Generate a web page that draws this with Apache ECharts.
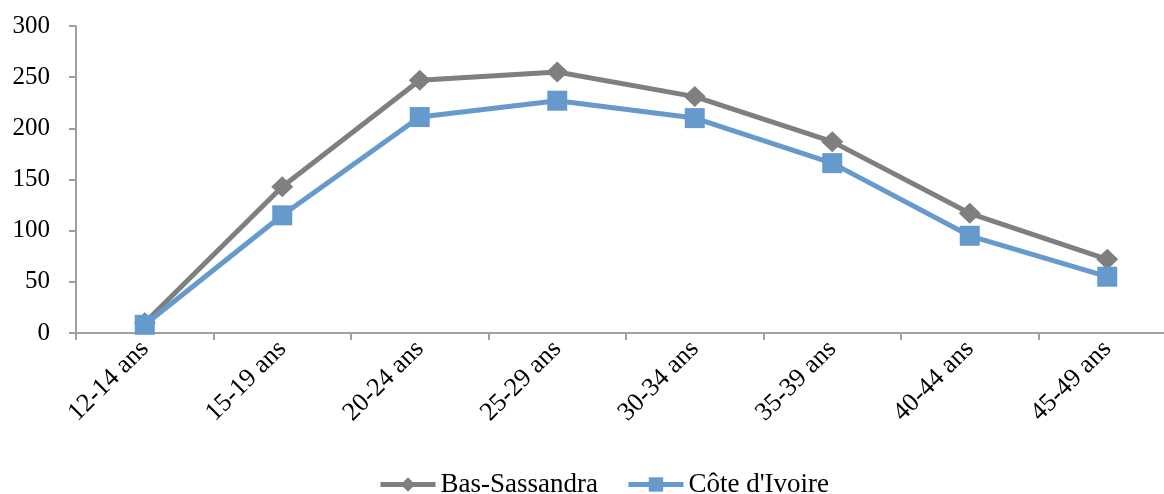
<!DOCTYPE html>
<html><head><meta charset="utf-8">
<script src="https://cdn.jsdelivr.net/npm/echarts@6/dist/echarts.min.js"></script>
<style>html,body{margin:0;padding:0;background:#fff}#c{width:1164px;height:494px}</style>
</head><body><div id="c"></div>
<script>
const categories = ['12-14 ans','15-19 ans','20-24 ans','25-29 ans','30-34 ans','35-39 ans','40-44 ans','45-49 ans'];
const basSassandra = [10, 143, 247, 255, 231, 187, 117, 72];
const coteIvoire = [8, 115, 211, 227, 210, 166, 95, 55];
const yTicks = [0, 50, 100, 150, 200, 250, 300];

const font = '"Liberation Serif", "Times New Roman", serif';
const chart = echarts.init(document.getElementById('c'));
chart.setOption({
  animation: false,
  textStyle: { fontFamily: font },
  grid: { left: 76, top: 26, bottom: 161, right: -12, containLabel: false, outerBoundsMode: 'none' },
  legend: {
    left: 373, top: 466, itemWidth: 55, itemHeight: 18, itemGap: 28,
    lineStyle: { width: 5 },
    textStyle: { fontFamily: font, fontSize: 27, color: '#000' },
    data: ['Bas-Sassandra', "Côte d'Ivoire"]
  },
  xAxis: {
    type: 'category', data: categories, boundaryGap: true,
    axisLine: { lineStyle: { color: '#a0a0a0', width: 2 } },
    axisTick: { show: true, length: 7, lineStyle: { color: '#a0a0a0', width: 2 } },
    axisLabel: { rotate: 45, interval: 0, fontFamily: font, fontSize: 26, color: '#000', margin: 12 }
  },
  yAxis: {
    type: 'value', min: yTicks[0], max: yTicks[yTicks.length - 1], interval: 50,
    splitLine: { show: false },
    axisLine: { show: true, lineStyle: { color: '#a0a0a0', width: 2 } },
    axisTick: { show: true, length: 7, lineStyle: { color: '#a0a0a0', width: 2 } },
    axisLabel: { fontFamily: font, fontSize: 25, color: '#000', margin: 26 }
  },
  series: [
    { name: 'Bas-Sassandra', type: 'line', data: basSassandra, symbol: 'diamond', symbolSize: [22, 21],
      itemStyle: { color: '#7f7f7f' }, lineStyle: { color: '#7f7f7f', width: 5 } },
    { name: "Côte d'Ivoire", type: 'line', data: coteIvoire, symbol: 'rect', symbolSize: 20,
      itemStyle: { color: '#6699cc' }, lineStyle: { color: '#6699cc', width: 5 } }
  ]
});
</script></body></html>
